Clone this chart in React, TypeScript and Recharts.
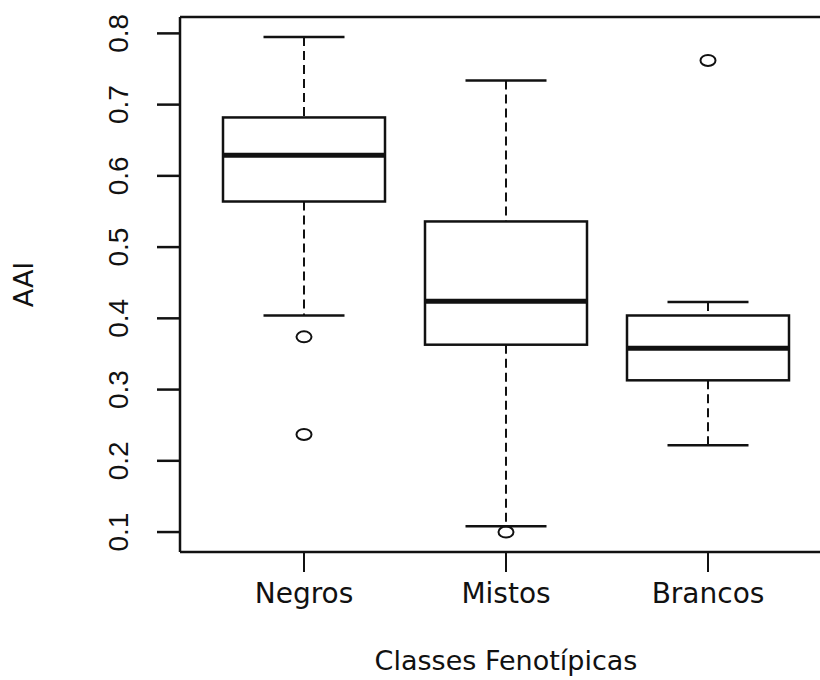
import { ComposedChart, Bar, XAxis, YAxis, ReferenceLine } from "recharts";

const categories = ["Negros", "Mistos", "Brancos"];
const upperWhisker = [0.795, 0.734, 0.423];
const q3 = [0.682, 0.536, 0.404];
const median = [0.629, 0.424, 0.358];
const q1 = [0.564, 0.363, 0.313];
const lowerWhisker = [0.404, 0.108, 0.222];
const outliers = [[0.374, 0.237], [0.1], [0.762]];
const yTicks = [0.1, 0.2, 0.3, 0.4, 0.5, 0.6, 0.7, 0.8];
const yDomain = [0.072, 0.823];

const data = categories.map((name, i) => ({
  name,
  hi: upperWhisker[i],
  q3: q3[i],
  med: median[i],
  q1: q1[i],
  lo: lowerWhisker[i],
  out: outliers[i],
}));

const INK = "#111";

// draws one whole box from the bar rect the library gives for [q1, q3]
function BoxShape(props: any) {
  const { x, y, width, height, payload } = props;
  const top = Math.min(y, y + height);
  const h = Math.abs(height);
  const k = h / (payload.q3 - payload.q1);
  const py = (v: number) => top + (payload.q3 - v) * k;
  const cx = x + width / 2;
  const cap = width / 4;
  return (
    <g>
      <line x1={cx} x2={cx} y1={py(payload.hi)} y2={py(payload.q3)} stroke={INK} strokeWidth={2} strokeDasharray="9 5" />
      <line x1={cx} x2={cx} y1={py(payload.q1)} y2={py(payload.lo)} stroke={INK} strokeWidth={2} strokeDasharray="9 5" />
      <line x1={cx - cap} x2={cx + cap} y1={py(payload.hi)} y2={py(payload.hi)} stroke={INK} strokeWidth={2.5} />
      <line x1={cx - cap} x2={cx + cap} y1={py(payload.lo)} y2={py(payload.lo)} stroke={INK} strokeWidth={2.5} />
      <rect x={x} y={top} width={width} height={h} fill="#fff" stroke={INK} strokeWidth={2.5} />
      <line x1={x} x2={x + width} y1={py(payload.med)} y2={py(payload.med)} stroke={INK} strokeWidth={5} />
      {payload.out.map((v: number, j: number) => (
        <ellipse key={j} cx={cx} cy={py(v)} rx={7.5} ry={5.5} fill="none" stroke={INK} strokeWidth={2} />
      ))}
    </g>
  );
}

const XTick = ({ x, y, payload }: any) => (
  <text x={x} y={y + 29} textAnchor="middle" fontFamily="DejaVu Sans" fontSize={28} fill={INK}>
    {payload.value}
  </text>
);

const YTick = ({ x, y, payload }: any) => (
  <text
    x={x - 27}
    y={y}
    transform={`rotate(-90, ${x - 27}, ${y})`}
    textAnchor="middle"
    fontFamily="Liberation Sans"
    fontSize={28}
    fill={INK}
  >
    {payload.value.toFixed(1)}
  </text>
);

export default function App() {
  return (
    <div style={{ position: "absolute", left: 0, top: 0, width: 820, height: 680, overflow: "hidden", background: "#fff" }}>
      <ComposedChart width={834} height={680} data={data} margin={{ top: 17, right: 2, left: 0, bottom: 0 }}>
        <XAxis
          dataKey="name"
          padding={{ left: 23, right: 23 }}
          height={128}
          tickSize={20}
          axisLine={{ stroke: INK, strokeWidth: 2.5 }}
          tickLine={{ stroke: INK, strokeWidth: 2 }}
          tick={<XTick />}
          label={{
            content: (p: any) => {
              const vb = p.viewBox;
              return (
                <text x={vb.x + vb.width / 2} y={vb.y + 118} textAnchor="middle" fontFamily="DejaVu Sans" fontSize={27} fill={INK}>
                  Classes Fenotípicas
                </text>
              );
            },
          }}
        />
        <YAxis
          type="number"
          domain={yDomain}
          ticks={yTicks}
          allowDataOverflow
          width={180}
          tickSize={23}
          axisLine={{ stroke: INK, strokeWidth: 2.5 }}
          tickLine={{ stroke: INK, strokeWidth: 2.5 }}
          tick={<YTick />}
          label={{
            content: (p: any) => {
              const vb = p.viewBox;
              const cy = vb.y + vb.height / 2;
              return (
                <text x={33} y={cy} transform={`rotate(-90, 33, ${cy})`} textAnchor="middle" fontFamily="DejaVu Sans" fontSize={27} fill={INK}>
                  AAI
                </text>
              );
            },
          }}
        />
        <ReferenceLine y={yDomain[1]} stroke={INK} strokeWidth={2.5} />
        <Bar dataKey={(d: any) => [d.q1, d.q3]} barSize={162} shape={<BoxShape />} isAnimationActive={false} />
      </ComposedChart>
    </div>
  );
}
